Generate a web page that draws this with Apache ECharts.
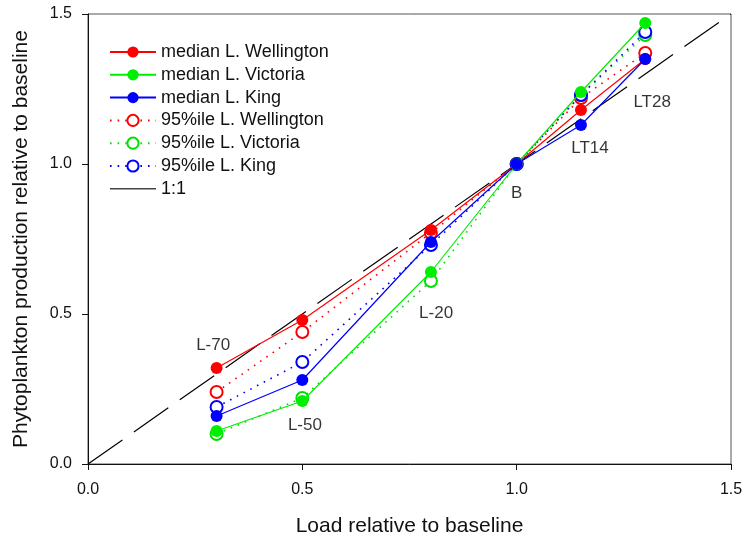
<!DOCTYPE html>
<html><head><meta charset="utf-8">
<script src="https://cdn.jsdelivr.net/npm/echarts@6/dist/echarts.min.js"></script>
<style>html,body{margin:0;padding:0;background:#fff}#c{width:746px;height:544px}</style>
</head><body><div id="c"></div>
<script>
const loads = [0.3, 0.5, 0.8, 1.0, 1.15, 1.3];
const medWellington = [0.32, 0.48, 0.78, 1.0, 1.18, 1.35];
const medVictoria   = [0.11, 0.21, 0.64, 1.0, 1.24, 1.47];
const medKing       = [0.16, 0.28, 0.74, 1.0, 1.13, 1.35];
const p95Wellington = [0.24, 0.44, 0.77, 1.0, 1.22, 1.37];
const p95Victoria   = [0.10, 0.22, 0.61, 1.0, 1.23, 1.43];
const p95King       = [0.19, 0.34, 0.73, 1.0, 1.23, 1.44];
const oneToOne = [[0, 0], [1.5, 1.5]];
const scenarioNames = ['L-70', 'L-50', 'L-20', 'B', 'LT14', 'LT28'];
const scenarioLabelPos = [[0.292, 0.397], [0.506, 0.13], [0.812, 0.503], [1.0, 0.903], [1.171, 1.053], [1.316, 1.207]];

const pair = arr => loads.map((x, i) => [x, arr[i]]);
const font = 'Liberation Sans, Arial, sans-serif';

function med(name, color, data) {
  return { name, type: 'line', data: pair(data), symbol: 'circle', symbolSize: 12,
    itemStyle: { color }, lineStyle: { color, width: 1.2 }, z: 4, animation: false };
}
function p95(name, color, data) {
  return { name, type: 'line', data: pair(data), symbol: 'emptyCircle', symbolSize: 12,
    itemStyle: { color, borderWidth: 1.2 },
    lineStyle: { color, width: 1.6, type: [1.6, 6] }, z: 3, animation: false };
}

const chart = echarts.init(document.getElementById('c'), null, { renderer: 'canvas' });
chart.setOption({
  animation: false,
  textStyle: { fontFamily: font },
  grid: { left: 88, right: 15, top: 14, bottom: 80, show: true, borderColor: '#555', borderWidth: 1, backgroundColor: 'transparent' },
  xAxis: {
    type: 'value', min: 0, max: 1.5, interval: 0.5,
    name: 'Load relative to baseline', nameLocation: 'middle', nameGap: 52,
    nameTextStyle: { fontSize: 21, color: '#111', fontFamily: font },
    axisLine: { onZero: false, lineStyle: { color: '#111', width: 1 } },
    axisTick: { show: true, inside: false, length: 6, lineStyle: { color: '#111' } },
    axisLabel: { fontSize: 16, color: '#111', margin: 18, formatter: v => v.toFixed(1) },
    splitLine: { show: false }
  },
  yAxis: {
    type: 'value', min: 0, max: 1.5, interval: 0.5,
    name: 'Phytoplankton production relative to baseline', nameLocation: 'middle', nameGap: 56,
    nameTextStyle: { fontSize: 21, color: '#111', fontFamily: font },
    axisLine: { onZero: false, lineStyle: { color: '#111', width: 1 } },
    axisTick: { show: true, inside: false, length: 6, lineStyle: { color: '#111' } },
    axisLabel: { fontSize: 16, color: '#111', margin: 16, formatter: v => v.toFixed(1) },
    splitLine: { show: false }
  },
  legend: {
    orient: 'vertical', left: 104, top: 38, itemGap: 4.8, itemWidth: 46, itemHeight: 14,
    textStyle: { fontSize: 18, color: '#111', fontFamily: font },
    data: ['median L. Wellington', 'median L. Victoria', 'median L. King',
      '95%ile L. Wellington', '95%ile L. Victoria', '95%ile L. King',
      { name: '1:1', icon: 'path://M0 0H46V1.6H0Z', itemStyle: { color: '#444' } }]
  },
  series: [
    { name: '1:1', type: 'line', data: oneToOne, symbol: 'none',
      lineStyle: { color: '#000', width: 1.2, type: [42, 14] }, itemStyle: { color: '#000' }, z: 2 },
    p95('95%ile L. Wellington', '#ff0000', p95Wellington),
    p95('95%ile L. Victoria', '#00e000', p95Victoria),
    p95('95%ile L. King', '#0000ff', p95King),
    med('median L. Wellington', '#ff0000', medWellington),
    med('median L. Victoria', '#00ee00', medVictoria),
    med('median L. King', '#0000ff', medKing),
    { name: 'labels', type: 'scatter', symbolSize: 0, silent: true,
      data: scenarioLabelPos.map((p, i) => ({ value: p, name: scenarioNames[i] })),
      label: { show: true, position: 'inside', formatter: p => p.name, fontSize: 17, color: '#000', textBorderWidth: 0, fontFamily: font },
      z: 5 }
  ]
});
</script></body></html>
